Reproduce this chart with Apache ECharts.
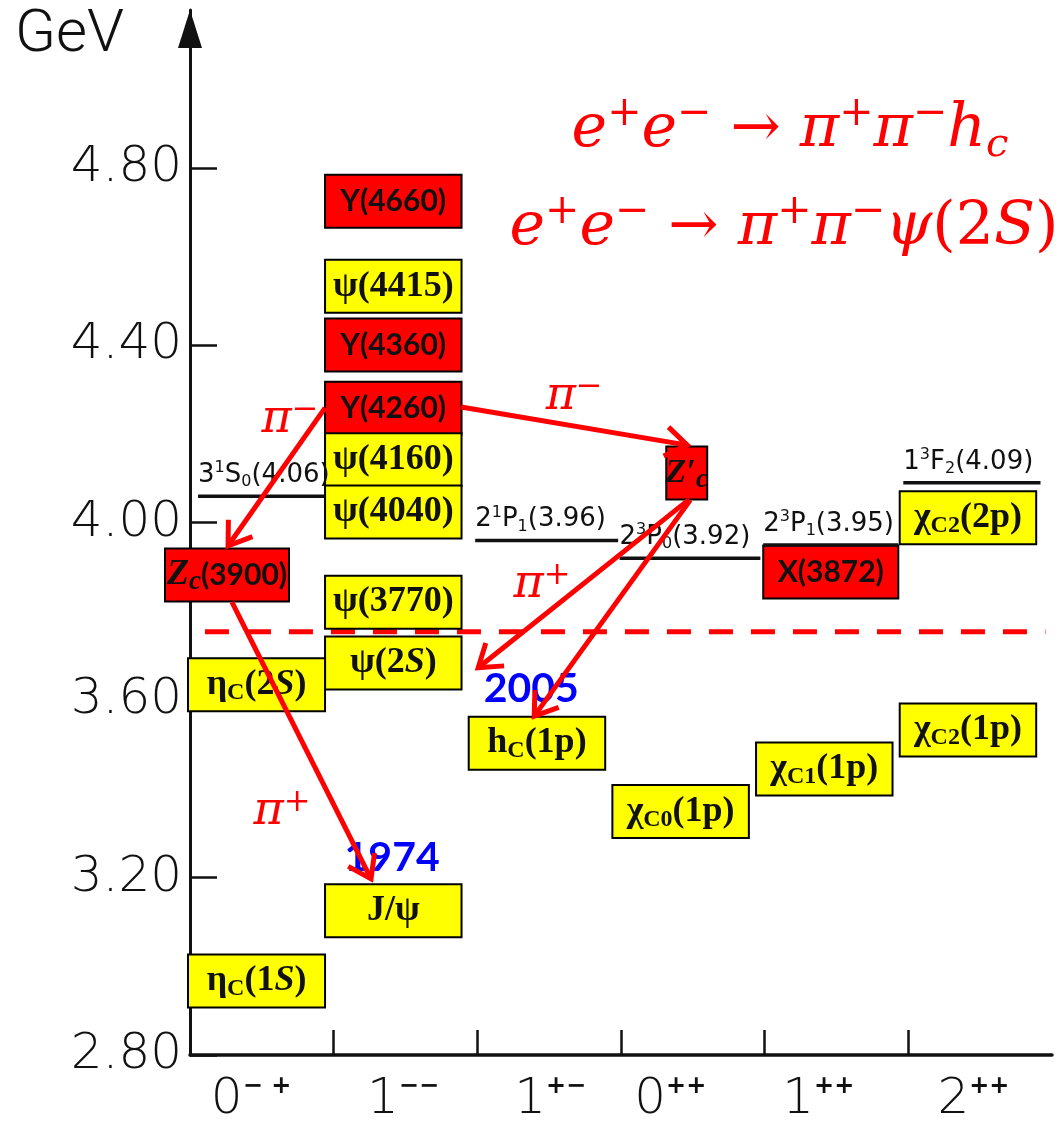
<!DOCTYPE html>
<html><head><meta charset="utf-8">
<script src="https://cdn.jsdelivr.net/npm/echarts@6/dist/echarts.min.js"></script>
<style>html,body{margin:0;padding:0;background:#fff}#c{width:1064px;height:1131px}</style>
</head><body><div id="c"></div>
<script>
// ---------- data ----------
const categories = ['0-+', '1--', '1+-', '0++', '1++', '2++'];
const catLabels = ['{n|0}{s|− +}', '{n|1}{s|−−}', '{n|1}{s|+−}', '{n|0}{s|++}', '{n|1}{s|++}', '{n|2}{s|++}'];
const yTicks = [2.8, 3.2, 3.6, 4.0, 4.4, 4.8];
const xTicks = [1, 2, 3, 4, 5];

const stateNames = ['Y(4660)', 'ψ(4415)', 'Y(4360)', 'Y(4260)', 'ψ(4160)', 'ψ(4040)', 'ψ(3770)', 'ψ(2S)', 'J/ψ',
  'ηc(2S)', 'ηc(1S)', 'Zc(3900)', "Z'c", 'hc(1p)', 'χc0(1p)', 'χc1(1p)', 'χc2(1p)', 'X(3872)', 'χc2(2p)'];
const stateCols = [1, 1, 1, 1, 1, 1, 1, 1, 1, 0, 0, 0, 3, 2, 3, 4, 5, 4, 5];
const stateLevels = [4.725, 4.533, 4.401, 4.258, 4.142, 4.024, 3.821, 3.684, 3.125,
  3.635, 2.967, 3.882, 4.112, 3.503, 3.349, 3.445, 3.533, 3.889, 4.011];
const stateExotic = [1, 0, 1, 1, 0, 0, 0, 0, 0, 0, 0, 1, 1, 0, 0, 0, 0, 1, 0];
const stateLabels = [
  '{sb|Y(4660)}', '{g|ψ(4415)}', '{sb|Y(4360)}', '{sb|Y(4260)}', '{g|ψ(4160)}', '{g|ψ(4040)}', '{g|ψ(3770)}',
  '{g|ψ(2}{gi|S}{g|)}', '{g|J/ψ}',
  '{g|η}{sub|C}{g|(2}{gi|S}{g|)}', '{g|η}{sub|C}{g|(1}{gi|S}{g|)}',
  '{zi|Z}{zsub|c}{sb|(3900)}', '{zp|Z′}{zsub|c}',
  '{g|h}{sub|C}{g|(1p)}', '{g|χ}{sub|C0}{g|(1p)}', '{g|χ}{sub|C1}{g|(1p)}', '{g|χ}{sub|C2}{g|(1p)}',
  '{sb|X(3872)}', '{g|χ}{sub|C2}{g|(2p)}'
];

const predLabels = ['{n|3}{su|1}{n|S}{sb|0}{n|(4.06)}', '{n|2}{su|1}{n|P}{sb|1}{n|(3.96)}',
  '{n|2}{su|3}{n|P}{sb|0}{n|(3.92)}', '{n|2}{su|3}{n|P}{sb|1}{n|(3.95)}', '{n|1}{su|3}{n|F}{sb|2}{n|(4.09)}'];
const predCols = [0, 2, 3, 4, 5];
const predValues = [4.06, 3.96, 3.92, 3.95, 4.09];

const thresholdValue = 3.754;

const arrowFrom = [[0.940, 4.259], [1.887, 4.261], [0.292, 3.821], [3.468, 4.051], [3.482, 4.051]];
const arrowTo = [[0.265, 3.948], [3.461, 4.175], [1.260, 3.197], [2.006, 3.673], [2.396, 3.564]];
const pionLabels = ['{p|π}{ps|−}', '{p|π}{ps|−}', '{p|π}{ps|+}', '{p|π}{ps|+}'];
const pionAt = [[0.696, 4.232], [2.674, 4.284], [0.641, 3.348], [2.451, 3.860]];
const yearLabels = ['1974', '2005'];
const yearAt = [[1.407, 3.244], [2.375, 3.625]];

// ---------- layout / style ----------
const catLabelShift = [-0.075, -0.017, 0.007, -0.157, -0.127, -0.047];
const catLabelPos = categories.map((c, i) => i + 0.5 + catLabelShift[i]);
const boxSpanDefault = [-0.06, 0.89];
const boxSpanOverride = {9: [-0.014, 0.94], 10: [-0.014, 0.94], 11: [-0.174, 0.689], 12: [0.315, 0.60], 17: [-0.01, 0.93]};
const predSpan = [[0.056, 0.94], [-0.015, 0.98], [-0.01, 0.97], [-0.01, 0.93], [-0.035, 0.92]];
const thresholdSpan = [0.104, 5.954];
const BOX_H = 53;
const RED = '#ff0000', YEL = '#ffff00', INK = '#111';
const SERIF = 'Liberation Serif', SANS = 'Lato', SCAN = 'DejaVu Sans';

const boxRich = {
  g: {fontFamily: SERIF, fontWeight: 'bold', fontSize: 36, lineHeight: 40, fill: INK},
  gi: {fontFamily: SERIF, fontWeight: 'bold', fontStyle: 'italic', fontSize: 36, lineHeight: 40, fill: INK},
  sub: {fontFamily: SERIF, fontWeight: 'bold', fontSize: 24, lineHeight: 20, verticalAlign: 'bottom', fill: INK},
  sb: {fontFamily: SANS, fontWeight: 'bold', fontSize: 30, lineHeight: 40, fill: INK},
  zi: {fontFamily: SERIF, fontWeight: 'bold', fontStyle: 'italic', fontSize: 36, lineHeight: 40, fill: INK},
  zp: {fontFamily: SERIF, fontWeight: 'bold', fontStyle: 'italic', fontSize: 34, lineHeight: 40, fill: INK},
  zsub: {fontFamily: SERIF, fontWeight: 'bold', fontStyle: 'italic', fontSize: 27, lineHeight: 22, verticalAlign: 'bottom', fill: INK}
};
const predRich = {
  n: {fontFamily: SCAN, fontSize: 26, lineHeight: 30, fill: INK},
  su: {fontFamily: SCAN, fontSize: 16, lineHeight: 18, verticalAlign: 'top', fill: INK},
  sb: {fontFamily: SCAN, fontSize: 16, lineHeight: 14, verticalAlign: 'bottom', fill: INK}
};
const pionRich = {
  p: {fontFamily: 'DejaVu Serif', fontStyle: 'italic', fontSize: 46, lineHeight: 50, fill: RED},
  ps: {fontFamily: 'DejaVu Serif', fontSize: 32, lineHeight: 16, verticalAlign: 'top', fill: RED}
};
const fRich = {
  f: {fontFamily: 'DejaVu Serif', fontStyle: 'italic', fontSize: 60, lineHeight: 72, fill: RED},
  u: {fontFamily: 'DejaVu Serif', fontSize: 60, lineHeight: 72, fill: RED},
  sp: {fontFamily: 'DejaVu Serif', fontSize: 41, lineHeight: 20, verticalAlign: 'top', fill: RED},
  sb: {fontFamily: 'DejaVu Serif', fontStyle: 'italic', fontSize: 40, lineHeight: 36, verticalAlign: 'bottom', fill: RED}
};

const chart = echarts.init(document.getElementById('c'), null, {renderer: 'canvas'});

function renderBox(params, api) {
  const i = api.value(2);
  const col = api.value(0), lev = api.value(1);
  const span = boxSpanOverride[i] || boxSpanDefault;
  const pL = api.coord([col + span[0], lev]);
  const pR = api.coord([col + span[1], lev]);
  return {type: 'group', children: [
    {type: 'rect', shape: {x: pL[0], y: pL[1] - BOX_H / 2, width: pR[0] - pL[0], height: BOX_H},
      style: {fill: stateExotic[i] ? RED : YEL, stroke: '#000', lineWidth: 2}},
    {type: 'text', style: {x: (pL[0] + pR[0]) / 2, y: pL[1], text: stateLabels[i], rich: boxRich,
      align: 'center', verticalAlign: 'middle'}}
  ]};
}
function renderPred(params, api) {
  const i = api.value(2);
  const col = api.value(0), v = api.value(1);
  const pL = api.coord([col + predSpan[i][0], v]);
  const pR = api.coord([col + predSpan[i][1], v]);
  return {type: 'group', children: [
    {type: 'line', shape: {x1: pL[0], y1: pL[1], x2: pR[0], y2: pR[1]}, style: {stroke: INK, lineWidth: 3.5}},
    {type: 'text', style: {x: pL[0], y: pL[1] - 6, text: predLabels[i], rich: predRich, align: 'left', verticalAlign: 'bottom'}}
  ]};
}
function renderThreshold(params, api) {
  const p1 = api.coord([api.value(0), api.value(2)]);
  const p2 = api.coord([api.value(1), api.value(2)]);
  return {type: 'line', shape: {x1: p1[0], y1: p1[1], x2: p2[0], y2: p2[1]},
    style: {stroke: RED, lineWidth: 5, lineDash: [24, 18]}};
}
function renderArrow(params, api) {
  const p1 = api.coord([api.value(0), api.value(1)]);
  const p2 = api.coord([api.value(2), api.value(3)]);
  const ang = Math.atan2(p1[1] - p2[1], p1[0] - p2[0]);
  const L = 26, a = 0.6;
  const h1 = [p2[0] + L * Math.cos(ang + a), p2[1] + L * Math.sin(ang + a)];
  const h2 = [p2[0] + L * Math.cos(ang - a), p2[1] + L * Math.sin(ang - a)];
  return {type: 'group', children: [
    {type: 'line', shape: {x1: p1[0], y1: p1[1], x2: p2[0], y2: p2[1]}, style: {stroke: RED, lineWidth: 5}},
    {type: 'polyline', shape: {points: [h1, p2, h2]}, style: {stroke: RED, lineWidth: 5, fill: null}}
  ]};
}
function renderPion(params, api) {
  const i = api.value(2);
  const p = api.coord([api.value(0), api.value(1)]);
  return {type: 'text', style: {x: p[0], y: p[1], text: pionLabels[i], rich: pionRich, align: 'center', verticalAlign: 'middle'}};
}
function renderYear(params, api) {
  const i = api.value(2);
  const p = api.coord([api.value(0), api.value(1)]);
  return {type: 'text', style: {x: p[0], y: p[1], text: yearLabels[i], fontFamily: SANS, fontWeight: 'bold',
    fontSize: 41, fill: '#0000ff', align: 'center', verticalAlign: 'middle'}};
}

const option = {
  animation: false,
  backgroundColor: '#fff',
  grid: {left: 190, right: 12, top: 10, bottom: 76, outerBoundsMode: 'none'},
  xAxis: {
    type: 'value', min: 0, max: 6,
    axisLine: {onZero: false, lineStyle: {color: INK, width: 3.5}},
    axisTick: {inside: true, length: 25, customValues: xTicks, lineStyle: {color: INK, width: 2.5}},
    axisLabel: {
      customValues: catLabelPos, margin: 20,
      formatter: function (v) {
        for (let i = 0; i < catLabelPos.length; i++) if (Math.abs(catLabelPos[i] - v) < 1e-6) return catLabels[i];
        return '';
      },
      rich: {
        n: {fontFamily: SCAN, fontWeight: 200, fontSize: 50, lineHeight: 50, color: INK},
        s: {fontFamily: SCAN, fontWeight: 'bold', fontSize: 24, lineHeight: 22, verticalAlign: 'top', color: INK}
      }
    },
    splitLine: {show: false}
  },
  yAxis: {
    type: 'value', min: 2.8, max: 5.156, interval: 0.4,
    axisLine: {show: true, onZero: false, symbol: ['none', 'triangle'], symbolSize: [24, 38], symbolOffset: [0, -19],
      lineStyle: {color: INK, width: 3}},
    axisTick: {show: true, inside: true, length: 27, customValues: yTicks, lineStyle: {color: INK, width: 2.5}},
    axisLabel: {customValues: yTicks, formatter: v => v.toFixed(2), margin: 8,
      fontFamily: SCAN, fontWeight: 200, fontSize: 50, color: INK},
    splitLine: {show: false}
  },
  graphic: [
    {type: 'text', left: 15, top: 6, style: {text: 'GeV', fontFamily: 'Roboto', fontWeight: 300, fontSize: 60, fill: INK}},
    {type: 'text', x: 790, y: 130, style: {text: '{f|e}{sp|+}{f|e}{sp|−}{u| → }{f|π}{sp|+}{f|π}{sp|−}{f|h}{sb|c}',
      rich: fRich, align: 'center', verticalAlign: 'middle'}},
    {type: 'text', x: 784, y: 228, style: {text: '{f|e}{sp|+}{f|e}{sp|−}{u| → }{f|π}{sp|+}{f|π}{sp|−}{f|ψ}{u|(2}{f|S}{u|)}',
      rich: fRich, align: 'center', verticalAlign: 'middle'}}
  ],
  series: [
    {type: 'custom', name: 'threshold', z: 1, silent: true, clip: false, renderItem: renderThreshold,
      data: [[thresholdSpan[0], thresholdSpan[1], thresholdValue]]},
    {type: 'custom', name: 'states', z: 2, silent: true, clip: false, renderItem: renderBox,
      data: stateNames.map((n, i) => [stateCols[i], stateLevels[i], i])},
    {type: 'custom', name: 'predicted', z: 3, silent: true, clip: false, renderItem: renderPred,
      data: predValues.map((v, i) => [predCols[i], v, i])},
    {type: 'custom', name: 'years', z: 4, silent: true, clip: false, renderItem: renderYear,
      data: yearLabels.map((t, i) => [yearAt[i][0], yearAt[i][1], i])},
    {type: 'custom', name: 'transitions', z: 5, silent: true, clip: false, renderItem: renderArrow,
      data: arrowFrom.map((f, i) => [f[0], f[1], arrowTo[i][0], arrowTo[i][1]])},
    {type: 'custom', name: 'pions', z: 6, silent: true, clip: false, renderItem: renderPion,
      data: pionLabels.map((t, i) => [pionAt[i][0], pionAt[i][1], i])}
  ]
};
chart.setOption(option);
</script></body></html>
